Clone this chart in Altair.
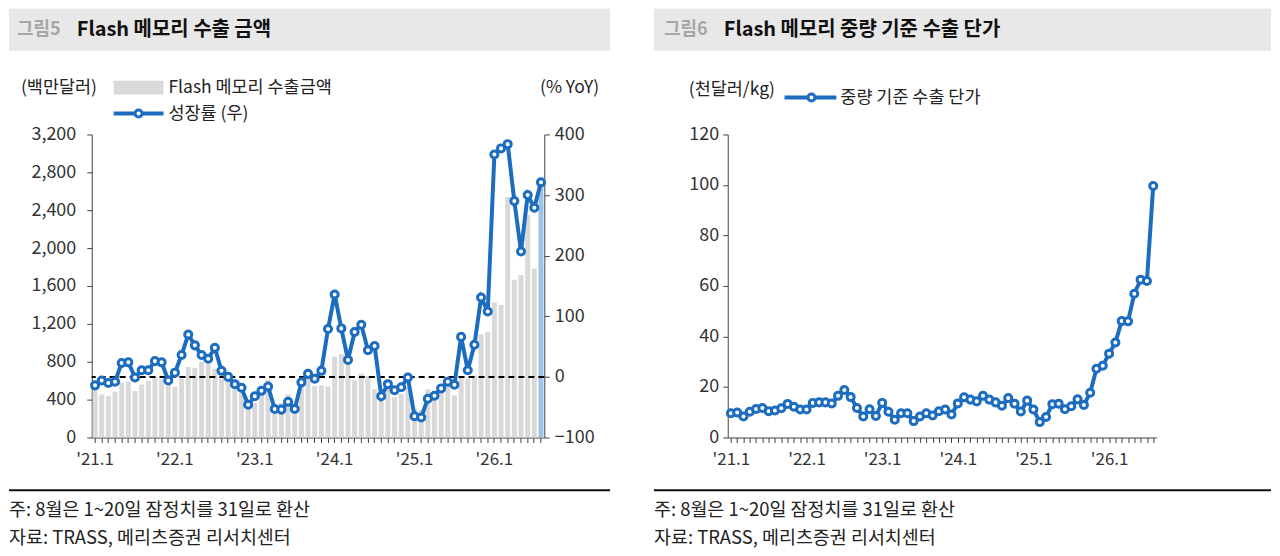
import altair as alt
import pandas as pd

FONT = "Noto Sans CJK KR"
BLUE = "#1c6cbf"
GRAY = "#d9d9d9"
LBLUE = "#9cc3e8"

# months '21.1 ... '26.8
months = [f"'{y}.{m}" for y in range(21, 27) for m in range(1, 13)][:68]

# Flash memory export amount (USD mn)
amount = [500, 455, 435, 485, 580, 590, 490, 560, 600, 640, 615, 565,
          535, 620, 745, 735, 800, 780, 725, 620, 600, 565, 500, 300,
          365, 470, 610, 345, 365, 455, 340, 560, 630, 545, 550, 540,
          855, 880, 800, 605, 675, 650, 510, 385, 555, 425, 460, 535,
          300, 290, 510, 420, 545, 600, 445, 640, 620, 655, 1090, 1115,
          1425, 1400, 2540, 1665, 1715, 2350, 1785, 2680]

# YoY growth (%)
growth = [-14, -6, -10, -8, 23, 24, -1, 11, 11, 26, 24, -6,
          7, 36, 70, 52, 36, 30, 48, 10, 0, -12, -18, -46,
          -32, -23, -16, -53, -54, -41, -53, -9, 5, -3, 10, 79,
          136, 80, 28, 74, 86, 44, 51, -32, -12, -22, -17, -1,
          -65, -67, -36, -31, -19, -8, -13, 66, 11, 53, 131, 108,
          367, 377, 384, 290, 207, 300, 279, 321]

# unit price by weight (thousand USD / kg)
price = [9.6, 9.9, 8.3, 10.2, 11.3, 11.7, 10.4, 10.7, 11.6, 13.3, 12.2, 11.1,
         11.1, 13.7, 13.9, 13.9, 13.5, 16.5, 18.8, 16.0, 11.7, 8.3, 11.2, 8.5,
         13.7, 10.2, 7.0, 9.6, 9.6, 6.5, 8.3, 9.6, 8.7, 10.4, 11.1, 9.1,
         13.5, 15.9, 15.0, 14.3, 16.5, 15.0, 13.9, 12.6, 15.6, 13.4, 10.3, 14.6,
         11.1, 6.1, 8.1, 13.2, 13.4, 11.2, 12.4, 15.1, 12.9, 17.7, 27.2, 28.4,
         33.2, 37.6, 46.1, 46.0, 56.9, 62.5, 62.0, 99.6]

highlight = ["n"] * 67 + ["h"]

H = 304
W1 = 454
W2 = 430
AX = 18      # y-axis label size
AXX = 17     # x-axis label size
LG = 17.5    # legend text size
NT = 18.5    # note text size

df1 = pd.DataFrame({"month": months, "amount": amount, "growth": growth, "hl": highlight})
df2 = pd.DataFrame({"month": months, "price": price})
ONE = pd.DataFrame({"k": [0]})

LABEL_EXPR = "slice(datum.value, -2) == '.1' ? datum.value : ''"


def x_axis():
    return alt.Axis(labelExpr=LABEL_EXPR, labelAngle=0, labelOverlap=False, tickSize=5,
                    labelPadding=9, domainColor="#404040", tickColor="#404040",
                    labelFontSize=AXX, labelColor="#333333", labelFont=FONT, title=None)


def txt(x, y, s, size=LG, color="#222222", weight="normal", align="left"):
    return alt.Chart(ONE).mark_text(text=s, align=align, baseline="middle", fontSize=size,
                                    color=color, fontWeight=weight, font=FONT).encode(
        x=alt.value(x), y=alt.value(y))


def rect(x, x2, y, y2, color):
    return alt.Chart(ONE).mark_rect(color=color).encode(
        x=alt.value(x), x2=alt.value(x2), y=alt.value(y), y2=alt.value(y2))


def hrule(x, x2, y, color, w):
    return alt.Chart(ONE).mark_rule(color=color, strokeWidth=w).encode(
        x=alt.value(x), x2=alt.value(x2), y=alt.value(y))


def dot(x, y):
    return alt.Chart(ONE).mark_point(filled=True, fill="white", stroke=BLUE, strokeWidth=3,
                                     size=50, opacity=1).encode(x=alt.value(x), y=alt.value(y))


# ---------------- left panel ----------------
X1 = alt.X("month:O", sort=months, title=None,
           scale=alt.Scale(type="band", paddingInner=0.25, paddingOuter=0.125),
           axis=x_axis())

bars = alt.Chart(df1).mark_bar().encode(
    x=X1,
    y=alt.Y("amount:Q", title=None, scale=alt.Scale(domain=[0, 3200], nice=False),
            axis=alt.Axis(orient="left", values=list(range(0, 3201, 400)), format=",d",
                          grid=False, tickSize=5, labelPadding=11, domainColor="#404040",
                          tickColor="#404040", labelFontSize=AX, labelColor="#333333",
                          labelFont=FONT)),
    color=alt.Color("hl:N", scale=alt.Scale(domain=["n", "h"], range=[GRAY, LBLUE]), legend=None),
)

gy = alt.Y("growth:Q", title=None, scale=alt.Scale(domain=[-100, 400], nice=False),
           axis=alt.Axis(orient="right", values=list(range(-100, 401, 50)), format="d",
                         grid=False, tickSize=5, labelPadding=5, domainColor="#404040",
                         tickColor="#404040", labelFontSize=AX, labelColor="#333333",
                         labelFont=FONT))

zero = alt.Chart(ONE).mark_rule(color="black", strokeDash=[6, 4], strokeWidth=2).encode(
    y=alt.datum(0))
gline = alt.Chart(df1).mark_line(color=BLUE, strokeWidth=4).encode(x=X1, y=gy)
gpts = alt.Chart(df1).mark_point(filled=True, fill="white", stroke=BLUE, strokeWidth=3,
                                 size=50, opacity=1).encode(x=X1, y=gy)
growth_layer = alt.layer(zero, gline, gpts)

left_main = alt.layer(bars, growth_layer).resolve_scale(y="independent")

left_deco = [
    rect(-83, 520, -126, -84, "#e8e8e8"),
    txt(-75, -105, "그림5", size=18, color="#a6a6a6", weight="bold"),
    txt(-15, -105, "Flash 메모리 수출 금액", size=20, color="#111111", weight="bold"),
    txt(-71, -47, "(백만달러)"),
    rect(22, 72, -54, -40, GRAY),
    txt(77, -47, "Flash 메모리 수출금액"),
    hrule(22, 72, -21, BLUE, 4),
    dot(47, -21),
    txt(77, -21, "성장률 (우)"),
    txt(509, -47, "(% YoY)", align="right"),
    hrule(-83, 520, 357, "#111111", 2),
    txt(-83, 377, "주: 8월은 1~20일 잠정치를 31일로 환산", size=NT),
    txt(-83, 405, "자료: TRASS, 메리츠증권 리서치센터", size=NT),
]

left = alt.layer(left_main, *left_deco).properties(width=W1, height=H)

# ---------------- right panel ----------------
X2 = alt.X("month:O", sort=months, title=None,
           scale=alt.Scale(type="point", padding=0.5), axis=x_axis())
py = alt.Y("price:Q", title=None, scale=alt.Scale(domain=[0, 120], nice=False),
           axis=alt.Axis(orient="left", values=list(range(0, 121, 20)), format="d",
                         grid=False, tickSize=5, labelPadding=4, domainColor="#404040",
                         tickColor="#404040", labelFontSize=AX, labelColor="#333333",
                         labelFont=FONT))

pline = alt.Chart(df2).mark_line(color=BLUE, strokeWidth=4).encode(x=X2, y=py)
ppts = alt.Chart(df2).mark_point(filled=True, fill="white", stroke=BLUE, strokeWidth=3,
                                 size=50, opacity=1).encode(x=X2, y=py)

right_deco = [
    rect(-74, 545, -126, -84, "#e8e8e8"),
    txt(-64, -105, "그림6", size=18, color="#a6a6a6", weight="bold"),
    txt(-4, -105, "Flash 메모리 중량 기준 수출 단가", size=20, color="#111111", weight="bold"),
    txt(-39, -45, "(천달러/kg)"),
    hrule(57, 109, -37, BLUE, 4),
    dot(84, -37),
    txt(113, -37, "중량 기준 수출 단가"),
    hrule(-74, 545, 357, "#111111", 2),
    txt(-74, 377, "주: 8월은 1~20일 잠정치를 31일로 환산", size=NT),
    txt(-74, 405, "자료: TRASS, 메리츠증권 리서치센터", size=NT),
]

right = alt.layer(pline, ppts, *right_deco).properties(width=W2, height=H)

chart = alt.hconcat(left, right, spacing=42).properties(padding=0).configure(
    font=FONT).configure_view(strokeWidth=0)

chart.save("out.html", embed_options={"renderer": "svg", "actions": False})
